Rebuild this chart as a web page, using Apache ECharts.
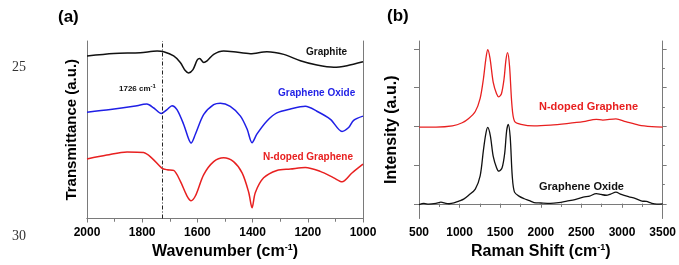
<!DOCTYPE html>
<html>
<head>
<meta charset="utf-8">
<script src="https://cdn.jsdelivr.net/npm/echarts@6.0.0/dist/echarts.min.js"></script>
<style>
  html, body { margin: 0; padding: 0; background: #fff; }
  #chart { width: 679px; height: 265px; }
</style>
</head>
<body>
<div id="chart"></div>
<script>
// ---- (a) FTIR: wavenumber (cm-1) vs transmittance (a.u.) ----
const graphiteX = [2000, 1903, 1807, 1746, 1722, 1686, 1662, 1644, 1632, 1616, 1601, 1592, 1577, 1565, 1541, 1505, 1469, 1408, 1348, 1287, 1227, 1167, 1106, 1058, 1000];
const graphiteY = [166.7, 169.3, 170, 171.7, 171, 166.7, 160, 151.7, 149.3, 152.7, 162.3, 164, 160, 161.7, 168.3, 171.7, 171, 169, 171, 168.3, 161.7, 157.3, 155, 156.7, 160.7];

const oxideX = [2000, 1915, 1831, 1783, 1758, 1731, 1710, 1692, 1674, 1650, 1632, 1623, 1607, 1577, 1541, 1517, 1481, 1444, 1420, 1402, 1384, 1348, 1312, 1263, 1209, 1167, 1118, 1076, 1052, 1034, 1000];
const oxideY = [109, 111.7, 115, 117.3, 113.3, 107.7, 111.7, 115.7, 111.7, 96.7, 81.7, 77.3, 86.7, 106.7, 116.7, 118.3, 115, 105, 91.7, 77.7, 86.7, 100, 108.3, 112.3, 115, 110, 101.7, 89.3, 93.3, 100.7, 105];

const ndopedX = [2000, 1928, 1855, 1795, 1764, 1729, 1710, 1686, 1662, 1638, 1623, 1607, 1577, 1541, 1505, 1469, 1438, 1414, 1402, 1390, 1360, 1312, 1263, 1209, 1155, 1106, 1076, 1040, 1000];
const ndopedY = [61, 65, 68.3, 67.7, 61.7, 51.7, 50, 49.3, 38.3, 23.3, 18.3, 23.3, 45, 58.3, 62.3, 58.3, 46.7, 26.7, 11, 26.7, 41.7, 49.3, 50.7, 52.3, 48.3, 41.7, 37.7, 46.7, 55.7];

const markWavenumber = 1726;

// ---- (b) Raman: shift (cm-1) vs intensity (a.u.) ----
const ramanNX = [500, 709, 911, 1032, 1112, 1193, 1253, 1293, 1322, 1346, 1374, 1414, 1455, 1483, 1515, 1547, 1571, 1591, 1615, 1644, 1676, 1756, 1917, 2119, 2320, 2522, 2683, 2763, 2924, 3045, 3206, 3367, 3500];
const ramanNY = [1.98, 1.98, 2.01, 2.09, 2.2, 2.38, 2.72, 3.22, 3.72, 3.98, 3.76, 3.13, 2.84, 2.76, 2.84, 3.22, 3.72, 3.9, 3.55, 2.55, 2.13, 2.05, 2.01, 2.03, 2.07, 2.12, 2.18, 2.16, 2.19, 2.12, 2.03, 1.99, 1.98];

const ramanGX = [500, 560, 620, 709, 770, 830, 870, 930, 991, 1050, 1112, 1193, 1253, 1293, 1322, 1346, 1378, 1414, 1455, 1483, 1523, 1555, 1579, 1599, 1623, 1648, 1676, 1736, 1797, 1860, 1917, 2000, 2119, 2220, 2320, 2420, 2522, 2600, 2683, 2740, 2803, 2860, 2924, 2990, 3085, 3160, 3246, 3300, 3367, 3430, 3500];
const ramanGY = [-0.02, 0.01, -0.01, 0.01, 0.04, 0.01, 0, 0.02, 0.07, 0.12, 0.22, 0.38, 0.72, 1.38, 1.8, 1.97, 1.76, 1.22, 0.93, 0.84, 0.93, 1.3, 1.88, 2.05, 1.72, 0.72, 0.3, 0.19, 0.13, 0.08, 0.03, 0.02, 0.01, 0.03, 0.07, 0.11, 0.17, 0.2, 0.26, 0.24, 0.22, 0.25, 0.3, 0.24, 0.18, 0.14, 0.07, 0.06, 0.01, -0.01, 0];

const ramanMajorTicks = [0, 1, 2, 3, 4];
const ramanMinorTicks = [0.5, 1.5, 2.5, 3.5];

function pares(xs, ys) {
    return xs.map((x, i) => [x, ys[i]]);
}

const chart = echarts.init(document.getElementById('chart'));
const FUENTE = 'Liberation Sans, Arial, sans-serif';
const GRIS = '#7a7a7a';
const sup = { fontSize: 9, fontWeight: 'bold', fontFamily: FUENTE, color: '#000', verticalAlign: 'top', padding: [0, 0, 8, 0] };
const nombreBase = { fontFamily: FUENTE, fontWeight: 'bold', color: '#000' };
const etiquetaX = { fontFamily: FUENTE, fontWeight: 'bold', fontSize: 12, color: '#000', margin: 8, formatter: v => String(v) };

const option = {
    animation: false,
    backgroundColor: '#fff',
    grid: [
        { left: 87, right: 316, top: 41, bottom: 42 },
        { left: 419, right: 11, top: 41, bottom: 41 }
    ],
    xAxis: [
        {
            gridIndex: 0, type: 'value', inverse: true, min: 1000, max: 2000, interval: 200,
            axisLine: { lineStyle: { color: GRIS, width: 1 } },
            axisTick: { inside: false, length: 4, lineStyle: { color: GRIS } },
            minorTick: { show: true, splitNumber: 2, length: 3, lineStyle: { color: GRIS } },
            splitLine: { show: false },
            axisLabel: etiquetaX,
            name: 'Wavenumber (cm{s|-1})', nameLocation: 'middle', nameGap: 25,
            nameTextStyle: Object.assign({ fontSize: 16, rich: { s: sup } }, nombreBase)
        },
        {
            gridIndex: 0, type: 'value', position: 'top', inverse: true, min: 1000, max: 2000, interval: 100,
            axisLine: { lineStyle: { color: GRIS, width: 1 } },
            axisTick: { inside: true, length: 3, lineStyle: { color: GRIS } },
            splitLine: { show: false }, axisLabel: { show: false }
        },
        {
            gridIndex: 1, type: 'value', min: 500, max: 3500, interval: 500,
            axisLine: { lineStyle: { color: GRIS, width: 1 } },
            axisTick: { inside: false, length: 4, lineStyle: { color: GRIS } },
            minorTick: { show: true, splitNumber: 2, length: 3, lineStyle: { color: GRIS } },
            splitLine: { show: false },
            axisLabel: etiquetaX,
            name: 'Raman Shift (cm{s|-1})', nameLocation: 'middle', nameGap: 25,
            nameTextStyle: Object.assign({ fontSize: 16, rich: { s: sup } }, nombreBase)
        },
        {
            gridIndex: 1, type: 'value', position: 'top', min: 500, max: 3500, interval: 250,
            axisLine: { lineStyle: { color: GRIS, width: 1 } },
            axisTick: { inside: true, length: 3, lineStyle: { color: GRIS } },
            splitLine: { show: false }, axisLabel: { show: false }
        }
    ],
    yAxis: [
        {
            gridIndex: 0, type: 'value', min: 0, max: 182,
            axisLine: { show: true, lineStyle: { color: GRIS, width: 1 } },
            axisTick: { show: false }, splitLine: { show: false }, axisLabel: { show: false },
            name: 'Transmittance (a.u.)', nameLocation: 'middle', nameGap: 8,
            nameTextStyle: Object.assign({ fontSize: 15 }, nombreBase)
        },
        {
            gridIndex: 0, type: 'value', position: 'right', min: 0, max: 182,
            axisLine: { show: true, lineStyle: { color: GRIS, width: 1 } },
            axisTick: { show: false }, splitLine: { show: false }, axisLabel: { show: false }
        },
        {
            gridIndex: 1, type: 'value', min: -0.38, max: 4.2,
            axisLine: { show: true, lineStyle: { color: GRIS, width: 1 } },
            axisTick: { show: true, inside: false, length: 5, customValues: ramanMajorTicks, lineStyle: { color: GRIS } },
            splitLine: { show: false }, axisLabel: { show: false },
            name: 'Intensity (a.u.)', nameLocation: 'middle', nameGap: 19,
            nameTextStyle: Object.assign({ fontSize: 16 }, nombreBase)
        },
        {
            gridIndex: 1, type: 'value', min: -0.38, max: 4.2,
            axisLine: { show: false },
            axisTick: { show: true, inside: false, length: 2, customValues: ramanMinorTicks, lineStyle: { color: GRIS } },
            splitLine: { show: false }, axisLabel: { show: false }
        },
        {
            gridIndex: 1, type: 'value', position: 'right', min: -0.38, max: 4.2,
            axisLine: { show: true, lineStyle: { color: GRIS, width: 1 } },
            axisTick: { show: true, inside: false, length: 4, customValues: ramanMajorTicks, lineStyle: { color: GRIS } },
            splitLine: { show: false }, axisLabel: { show: false }
        },
        {
            gridIndex: 1, type: 'value', position: 'right', min: -0.38, max: 4.2,
            axisLine: { show: false },
            axisTick: { show: true, inside: false, length: 2, customValues: ramanMinorTicks, lineStyle: { color: GRIS } },
            splitLine: { show: false }, axisLabel: { show: false }
        }
    ],
    series: [
        {
            name: 'Graphite', type: 'line', xAxisIndex: 0, yAxisIndex: 0,
            data: pares(graphiteX, graphiteY), smooth: 0.3, symbol: 'none',
            lineStyle: { color: '#111', width: 1.5 },
            markLine: {
                silent: true, symbol: 'none', label: { show: false },
                lineStyle: { color: '#222', width: 1, type: [4, 2, 1, 2] },
                data: [{ xAxis: markWavenumber }]
            }
        },
        {
            name: 'Graphene Oxide', type: 'line', xAxisIndex: 0, yAxisIndex: 0,
            data: pares(oxideX, oxideY), smooth: 0.3, symbol: 'none',
            lineStyle: { color: '#1f1fe6', width: 1.5 }
        },
        {
            name: 'N-doped Graphene', type: 'line', xAxisIndex: 0, yAxisIndex: 0,
            data: pares(ndopedX, ndopedY), smooth: 0.3, symbol: 'none',
            lineStyle: { color: '#e82020', width: 1.5 }
        },
        {
            name: 'N-doped Graphene (Raman)', type: 'line', xAxisIndex: 2, yAxisIndex: 2,
            data: pares(ramanNX, ramanNY), smooth: 0.3, symbol: 'none',
            lineStyle: { color: '#e82020', width: 1.3 }
        },
        {
            name: 'Graphene Oxide (Raman)', type: 'line', xAxisIndex: 2, yAxisIndex: 2,
            data: pares(ramanGX, ramanGY), smooth: 0.3, symbol: 'none',
            lineStyle: { color: '#111', width: 1.3 }
        }
    ],
    graphic: [
        { type: 'text', left: 58, top: 9, style: { text: '(a)', font: 'bold 17px ' + FUENTE, fill: '#000' } },
        { type: 'text', left: 387, top: 8, style: { text: '(b)', font: 'bold 17px ' + FUENTE, fill: '#000' } },
        { type: 'text', left: 12, top: 60, style: { text: '25', font: '14px Liberation Serif, Times New Roman, serif', fill: '#333' } },
        { type: 'text', left: 12, top: 229, style: { text: '30', font: '14px Liberation Serif, Times New Roman, serif', fill: '#333' } },
        { type: 'text', left: 306, top: 47, style: { text: 'Graphite', font: 'bold 10px ' + FUENTE, fill: '#111' } },
        { type: 'text', left: 278, top: 88, style: { text: 'Graphene Oxide', font: 'bold 10px ' + FUENTE, fill: '#1f1fe6' } },
        { type: 'text', left: 263, top: 152, style: { text: 'N-doped Graphene', font: 'bold 10px ' + FUENTE, fill: '#e82020' } },
        {
            type: 'text', left: 119, top: 83,
            style: {
                text: '1726 cm{s|-1}', font: 'bold 8px ' + FUENTE, fill: '#111',
                rich: { s: { fontSize: 6, fontWeight: 'bold', fontFamily: FUENTE, fill: '#111', verticalAlign: 'top', padding: [0, 0, 5, 0] } }
            }
        },
        { type: 'text', left: 539, top: 101, style: { text: 'N-doped Graphene', font: 'bold 11px ' + FUENTE, fill: '#e82020' } },
        { type: 'text', left: 539, top: 181, style: { text: 'Graphene Oxide', font: 'bold 11px ' + FUENTE, fill: '#111' } }
    ]
};

chart.setOption(option);
</script>
</body>
</html>
